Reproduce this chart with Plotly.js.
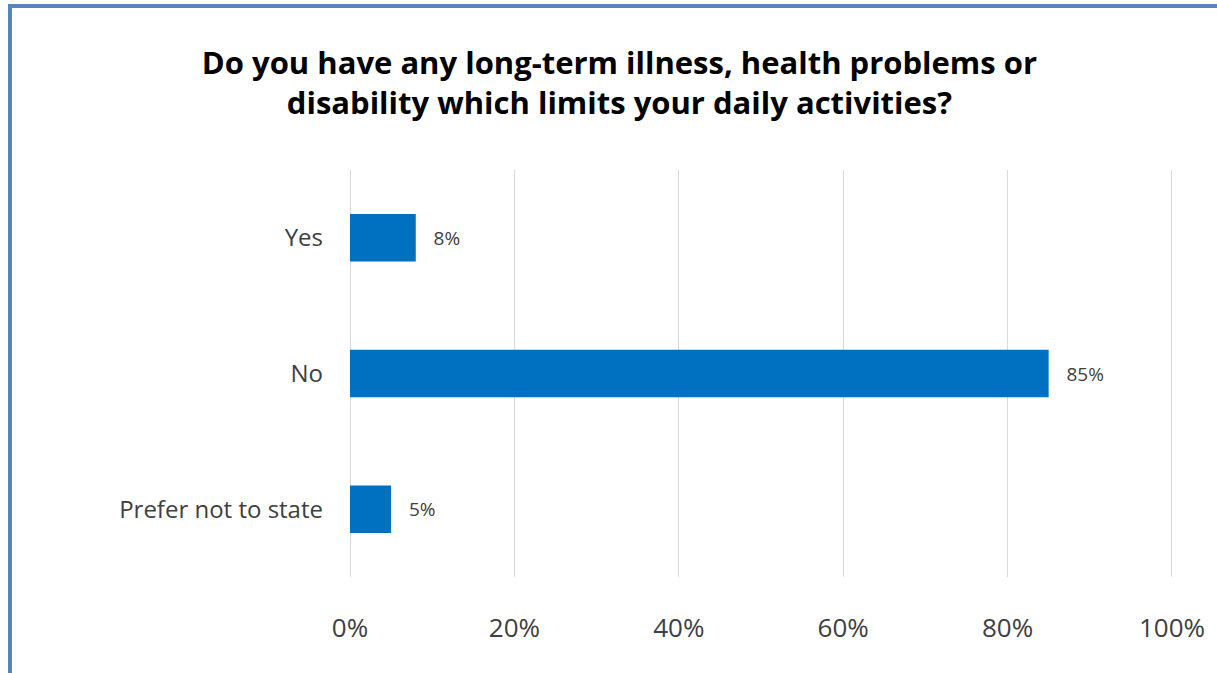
<!DOCTYPE html>
<html>
<head>
<meta charset="utf-8">
<script src="https://cdn.plot.ly/plotly-3.0.1.min.js"></script>
<style>
html,body{margin:0;padding:0;background:#fff;}
#wrap{position:relative;width:1217px;height:673px;overflow:hidden;}
#chart{position:absolute;left:0;top:0;width:1217px;height:673px;}
#frame{position:absolute;left:8px;top:4px;width:1300px;height:700px;border-left:4px solid #5b85ba;border-top:4px solid #5b85ba;pointer-events:none;box-sizing:border-box;}
</style>
</head>
<body>
<div id="wrap">
<div id="chart"></div>
<div id="frame"></div>
</div>
<script>
const categories = ["Yes", "No", "Prefer not to state"];
const values = [8, 85, 5];
const valueLabels = ["8%", "85%", "5%"];
const xTickValues = [0, 20, 40, 60, 80, 100];
const xTickLabels = ["0%", "20%", "40%", "60%", "80%", "100%"];

const font = "Open Sans, Noto Sans, sans-serif";
const pad = "\u00a0\u00a0\u00a0";

const trace = {
  type: "bar",
  orientation: "h",
  y: categories,
  x: values,
  text: valueLabels.map(t => pad + t),
  textposition: "outside",
  constraintext: "none",
  cliponaxis: false,
  textfont: {family: font, size: 19, color: "#404040"},
  marker: {color: "#0070C0"},
  width: 0.35,
  hoverinfo: "skip"
};

const layout = {
  width: 1217,
  height: 673,
  margin: {l: 350, r: 43, t: 170, b: 96},
  paper_bgcolor: "#ffffff",
  plot_bgcolor: "#ffffff",
  showlegend: false,
  title: {
    text: "<b>Do you have any long-term illness, health problems or<br>disability which limits your daily activities?</b>",
    font: {family: font, size: 31, color: "#000000"},
    x: 0.509, xanchor: "center",
    y: 0.89, yanchor: "top"
  },
  xaxis: {
    range: [0, 100.25],
    tickvals: xTickValues,
    ticktext: xTickLabels,
    showgrid: true,
    gridcolor: "#d9d9d9",
    gridwidth: 1,
    zeroline: true,
    zerolinecolor: "#d9d9d9",
    zerolinewidth: 1,
    showline: false,
    ticks: "",
    ticklabelstandoff: 33,
    tickfont: {family: font, size: 26, color: "#404040"},
    fixedrange: true
  },
  yaxis: {
    type: "category",
    autorange: "reversed",
    showgrid: false,
    zeroline: false,
    showline: false,
    ticks: "",
    ticklabelstandoff: 26,
    tickfont: {family: font, size: 24, color: "#404040"},
    fixedrange: true
  }
};

Plotly.newPlot("chart", [trace], layout, {displayModeBar: false, staticPlot: true});
</script>
</body>
</html>
